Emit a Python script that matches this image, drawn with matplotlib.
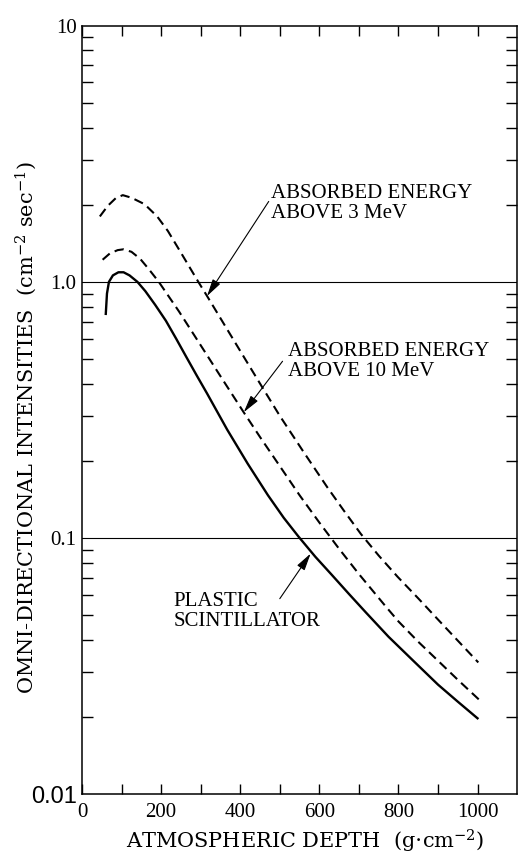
import numpy as np
import matplotlib.pyplot as plt
from matplotlib.ticker import FixedLocator, LogLocator, NullFormatter

plt.rcParams['font.family'] = ['Liberation Serif', 'DejaVu Serif']
plt.rcParams['font.size'] = 15
plt.rcParams['mathtext.fontset'] = 'dejavuserif'

# plastic scintillator (solid)
x_plastic = [60, 63, 68, 78, 92, 105, 120, 140, 160, 185, 212, 238, 264, 290, 316,
             367, 419, 470, 510, 547, 590, 631, 675, 718, 775, 835, 900, 950, 1000]
y_plastic = [0.75, 0.90, 1.00, 1.06, 1.09, 1.09, 1.06, 1.0, 0.92, 0.813, 0.705,
             0.60, 0.508, 0.431, 0.367, 0.265, 0.195, 0.147, 0.120, 0.1015, 0.0845,
             0.072, 0.0605, 0.0512, 0.0412, 0.0335, 0.0268, 0.0230, 0.0198]

# absorbed energy above 10 MeV (dashed)
x_10mev = [52, 70, 90, 105, 125, 147, 169, 194, 245, 297, 357, 408, 450, 500, 550,
           600, 650, 700, 767, 800, 850, 902, 950, 1004]
y_10mev = [1.22, 1.29, 1.33, 1.34, 1.31, 1.23, 1.12, 1.0, 0.767, 0.575, 0.412,
           0.311, 0.248, 0.191, 0.147, 0.115, 0.0908, 0.0724, 0.0543, 0.0473,
           0.0394, 0.033, 0.028, 0.0234]

# absorbed energy above 3 MeV (dashed)
x_3mev = [45, 65, 85, 103, 125, 158, 190, 217, 250, 294, 316, 363, 414, 450, 500,
          560, 620, 662, 705, 750, 798, 850, 900, 950, 1002]
y_3mev = [1.80, 1.98, 2.12, 2.18, 2.13, 2.01, 1.80, 1.58, 1.30, 1.0, 0.881, 0.668,
          0.495, 0.401, 0.300, 0.217, 0.158, 0.128, 0.1038, 0.0855, 0.0706, 0.0582,
          0.0481, 0.0398, 0.0327]

xticks = [0, 100, 200, 300, 400, 500, 600, 700, 800, 900, 1000]
xticklabels = ['0', '', '200', '', '400', '', '600', '', '800', '', '1000']
yticks = [0.01, 0.1, 1.0, 10]
yticklabels = ['0.01', '0.1', '1.0', '10']

fig = plt.figure(figsize=(5.26, 8.55), dpi=100)
ax = fig.add_axes([0.156, 0.071, 0.827, 0.899])

ax.plot(x_plastic, y_plastic, color='black', lw=1.7)
ax.plot(x_10mev, y_10mev, color='black', lw=1.5, linestyle=(0, (4.5, 2.6)))
ax.plot(x_3mev, y_3mev, color='black', lw=1.5, linestyle=(0, (4.5, 2.6)))

ax.set_yscale('log')
ax.set_xlim(0, 1100)
ax.set_ylim(0.01, 10)

for v in (0.1, 1.0):
    ax.axhline(v, color='black', lw=0.8)

ax.xaxis.set_major_locator(FixedLocator(xticks))
ax.set_xticklabels(xticklabels)
ax.yaxis.set_major_locator(FixedLocator(yticks))
ax.set_yticklabels(yticklabels)
lab001 = ax.get_yticklabels()[0]
lab001.set_family(['Liberation Sans'])
lab001.set_fontsize(17)
ax.yaxis.set_minor_locator(LogLocator(base=10, subs=np.arange(2, 10)))
ax.yaxis.set_minor_formatter(NullFormatter())

ax.tick_params(axis='x', which='major', direction='in', top=True, length=7, width=1, pad=6)
ax.tick_params(axis='y', which='major', direction='in', right=True, length=0, pad=4)
ax.tick_params(axis='y', which='minor', direction='in', right=True, length=8, width=1)
for s in ax.spines.values():
    s.set_linewidth(1.1)

ax.set_xlabel('ATMOSPHERIC DEPTH  (g$\\cdot$cm$^{-2}$)', family='DejaVu Serif', fontsize=15)
ax.set_ylabel('OMNI-DIRECTIONAL INTENSITIES  (cm$^{-2}$ sec$^{-1}$)',
              family='DejaVu Serif', fontsize=15)
ax.xaxis.set_label_coords(0.513, -0.044)
ax.yaxis.set_label_coords(-0.10, 0.477)

arrow = dict(arrowstyle='-|>,head_length=0.7,head_width=0.18', color='black', lw=0.8,
             shrinkA=0, shrinkB=0)
ax.text(478, 2.02, 'ABSORBED ENERGY\nABOVE 3 MeV', ha='left', va='center', linespacing=1.1)
ax.annotate('', xy=(316, 0.88), xytext=(472, 2.06), arrowprops=arrow)
ax.text(522, 0.49, 'ABSORBED ENERGY\nABOVE 10 MeV', ha='left', va='center', linespacing=1.1)
ax.annotate('', xy=(409, 0.31), xytext=(507, 0.49), arrowprops=arrow)
ax.text(232, 0.0516, 'PLASTIC\nSCINTILLATOR', ha='left', va='center', linespacing=1.1)
ax.annotate('', xy=(578, 0.087), xytext=(500, 0.058), arrowprops=arrow)

fig.savefig('out.png', dpi=100)
